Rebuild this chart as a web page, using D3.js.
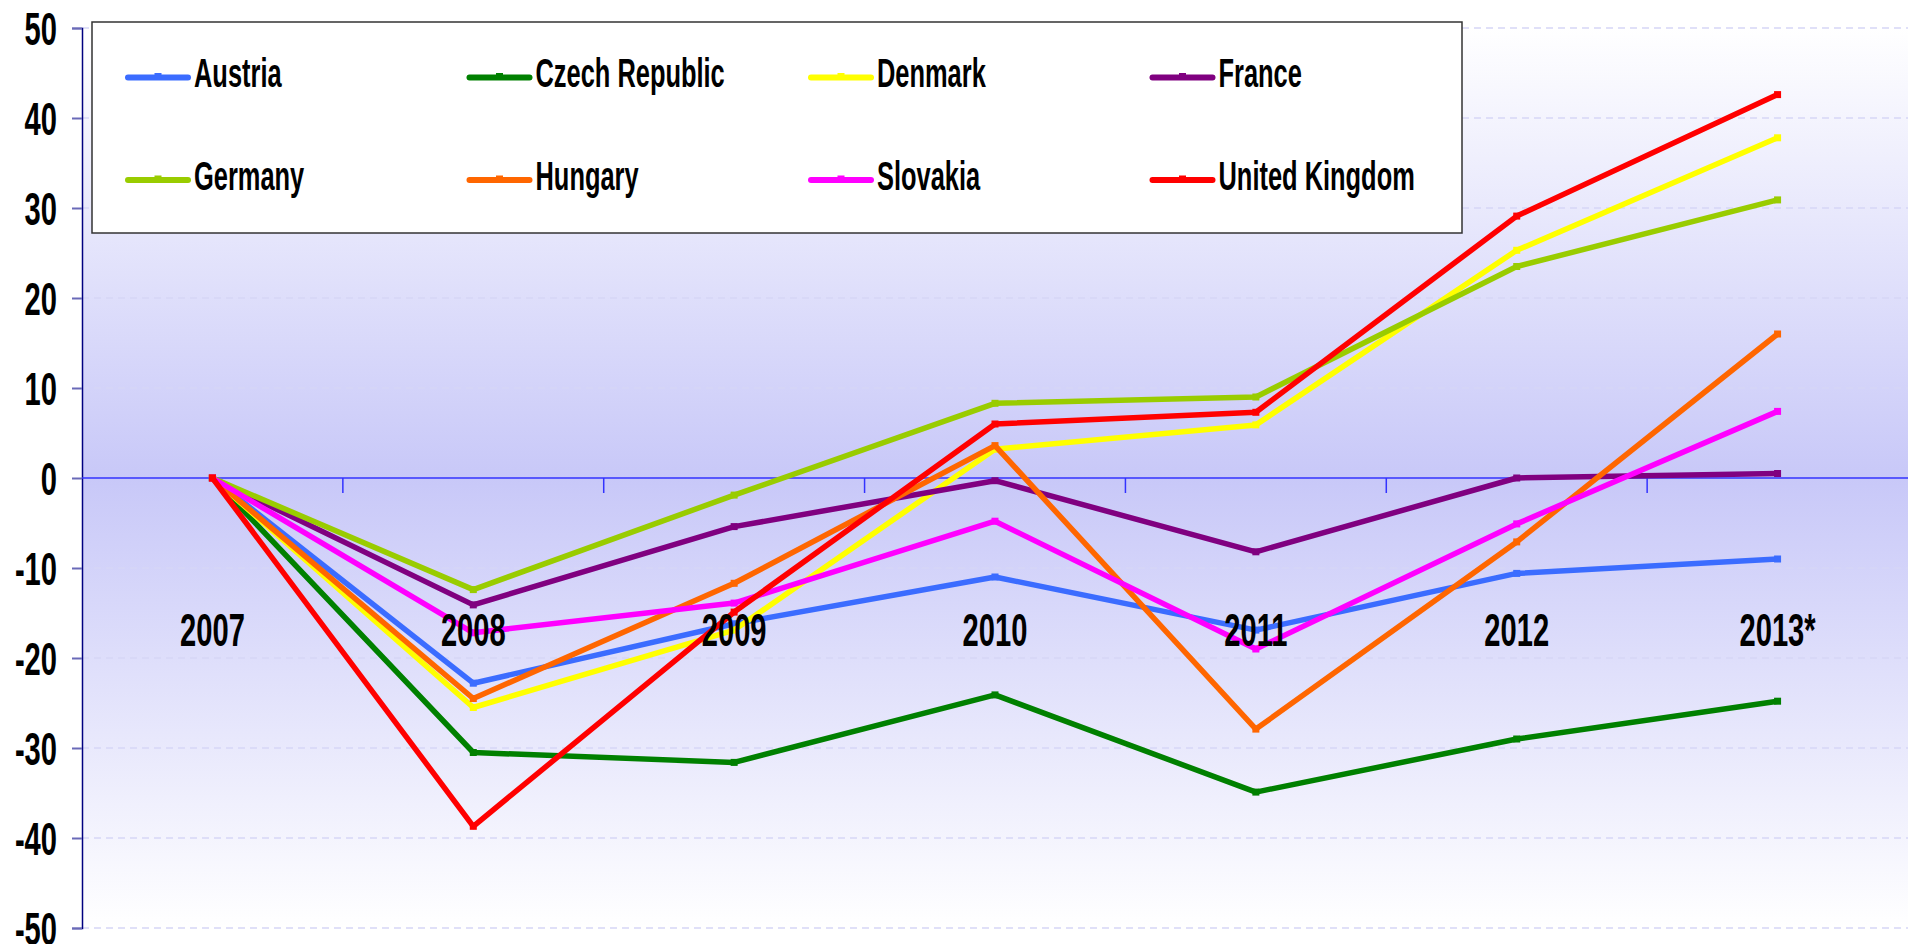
<!DOCTYPE html>
<html>
<head>
<meta charset="utf-8">
<script src="https://cdn.jsdelivr.net/npm/d3@7"></script>
<style>
  body { margin: 0; background: #fff; }
  svg { display: block; font-family: "Liberation Sans", Arial, sans-serif; font-weight: bold; }
</style>
</head>
<body>
<div id="viz"></div>
<script>
// categories and tick labels
let years = ["2007", "2008", "2009", "2010", "2011", "2012", "2013*"];
let countries = ["Austria", "Czech Republic", "Denmark", "France", "Germany", "Hungary", "Slovakia", "United Kingdom"];
let yTicks = [50, 40, 30, 20, 10, 0, -10, -20, -30, -40, -50];

// series values
let austria = [0, -22.8, -16.2, -11.0, -16.9, -10.6, -9.0];
let czech = [0, -30.5, -31.6, -24.1, -34.9, -29.0, -24.8];
let denmark = [0, -25.5, -16.9, 3.2, 5.9, 25.3, 37.8];
let france = [0, -14.1, -5.4, -0.3, -8.2, 0.0, 0.5];
let germany = [0, -12.4, -1.9, 8.3, 9.0, 23.5, 30.9];
let hungary = [0, -24.5, -11.7, 3.6, -27.9, -7.1, 16.0];
let slovakia = [0, -17.2, -13.9, -4.8, -19.0, -5.1, 7.4];
let uk = [0, -38.7, -14.9, 6.0, 7.3, 29.1, 42.6];

let seriesValues = [austria, czech, denmark, france, germany, hungary, slovakia, uk];
let colours = ["#3b6cff", "#008000", "#ffff00", "#800080", "#99cc00", "#ff6600", "#ff00ff", "#ff0000"];

let width = 1908, height = 944;
let plotLeft = 82, plotRight = 1908, plotTop = 28, plotBottom = 928;
let sx = 0.62; // the original type is a squeezed, tall bold face

let svg = d3.select("#viz").append("svg")
  .attr("width", width)
  .attr("height", height);

let x = d3.scaleBand().domain(years).range([plotLeft, plotRight]);
let y = d3.scaleLinear().domain([-50, 50]).range([plotBottom, plotTop]);
let cx = (d) => x(d) + x.bandwidth() / 2;

// plot background
let grad = svg.append("defs").append("linearGradient")
  .attr("id", "bg").attr("x1", 0).attr("y1", 0).attr("x2", 0).attr("y2", 1);
grad.append("stop").attr("offset", "0%").attr("stop-color", "#ffffff");
grad.append("stop").attr("offset", "50%").attr("stop-color", "#c8c8f8");
grad.append("stop").attr("offset", "100%").attr("stop-color", "#ffffff");

svg.append("rect")
  .attr("x", plotLeft).attr("y", plotTop)
  .attr("width", plotRight - plotLeft).attr("height", plotBottom - plotTop)
  .attr("fill", "url(#bg)");

// dashed gridlines
svg.append("g")
  .selectAll("line")
  .data(yTicks.filter((d) => d !== 0))
  .join("line")
  .attr("x1", plotLeft).attr("x2", plotRight)
  .attr("y1", (d) => y(d)).attr("y2", (d) => y(d))
  .attr("stroke", "#d6d6f6")
  .attr("stroke-width", 1.5)
  .attr("stroke-dasharray", "7,5");

// y axis
let yAxis = svg.append("g")
  .attr("transform", `translate(${plotLeft},0)`)
  .call(d3.axisLeft(y).tickValues(yTicks).tickSize(10).tickFormat((d) => String(d)));
yAxis.select(".domain").attr("stroke", "#000080").attr("stroke-width", 1.5);
yAxis.selectAll(".tick line").attr("stroke", "#6a6ab8").attr("stroke-width", 2);
yAxis.selectAll(".tick text")
  .attr("fill", "#000")
  .attr("font-size", 47)
  .attr("font-family", "Liberation Sans, Arial, sans-serif")
  .attr("font-weight", "bold")
  .attr("dy", "0.36em")
  .attr("x", -25 / sx)
  .attr("transform", `scale(${sx},1)`);

// zero line with category ticks on the band boundaries
svg.append("line")
  .attr("x1", plotLeft).attr("x2", plotRight)
  .attr("y1", y(0)).attr("y2", y(0))
  .attr("stroke", "#3333ff").attr("stroke-width", 1.5);

svg.append("g")
  .selectAll("line")
  .data(years.slice(1))
  .join("line")
  .attr("x1", (d) => x(d)).attr("x2", (d) => x(d))
  .attr("y1", y(0)).attr("y2", y(0) + 15)
  .attr("stroke", "#3333ff").attr("stroke-width", 1.5);

// series lines
let line = d3.line()
  .x((d, i) => cx(years[i]))
  .y((d) => y(d));

let series = svg.append("g")
  .selectAll("g")
  .data(seriesValues)
  .join("g");

series.append("path")
  .attr("d", (d) => line(d))
  .attr("fill", "none")
  .attr("stroke", (d, i) => colours[i])
  .attr("stroke-width", 5.5)
  .attr("stroke-linejoin", "round");

series.each(function (vals, si) {
  d3.select(this).selectAll("rect")
    .data(vals)
    .join("rect")
    .attr("x", (d, i) => cx(years[i]) - 3.5)
    .attr("y", (d) => y(d) - 3.5)
    .attr("width", 7).attr("height", 7)
    .attr("fill", colours[si]);
});

// category labels (drawn above the lines)
svg.append("g")
  .selectAll("text")
  .data(years)
  .join("text")
  .attr("transform", (d) => `translate(${cx(d)},646) scale(${sx},1)`)
  .attr("text-anchor", "middle")
  .attr("font-size", 47)
  .attr("fill", "#000")
  .text((d) => d);

// legend
let legend = svg.append("g");
legend.append("rect")
  .attr("x", 92).attr("y", 22)
  .attr("width", 1370).attr("height", 211)
  .attr("fill", "#fff")
  .attr("stroke", "#333")
  .attr("stroke-width", 1.5);

let item = legend.selectAll("g")
  .data(countries)
  .join("g")
  .attr("transform", (d, i) => `translate(${128 + (i % 4) * 341.5},${i < 4 ? 77.5 : 180})`);

item.append("line")
  .attr("x1", 0).attr("x2", 60)
  .attr("stroke", (d, i) => colours[i])
  .attr("stroke-width", 6)
  .attr("stroke-linecap", "round");

item.append("rect")
  .attr("x", 26.5).attr("y", -4.5)
  .attr("width", 7).attr("height", 7)
  .attr("fill", (d, i) => colours[i]);

item.append("text")
  .attr("transform", `translate(66,9.5) scale(${sx},1)`)
  .attr("font-size", 41)
  .attr("fill", "#000")
  .text((d) => d);
</script>
</body>
</html>
